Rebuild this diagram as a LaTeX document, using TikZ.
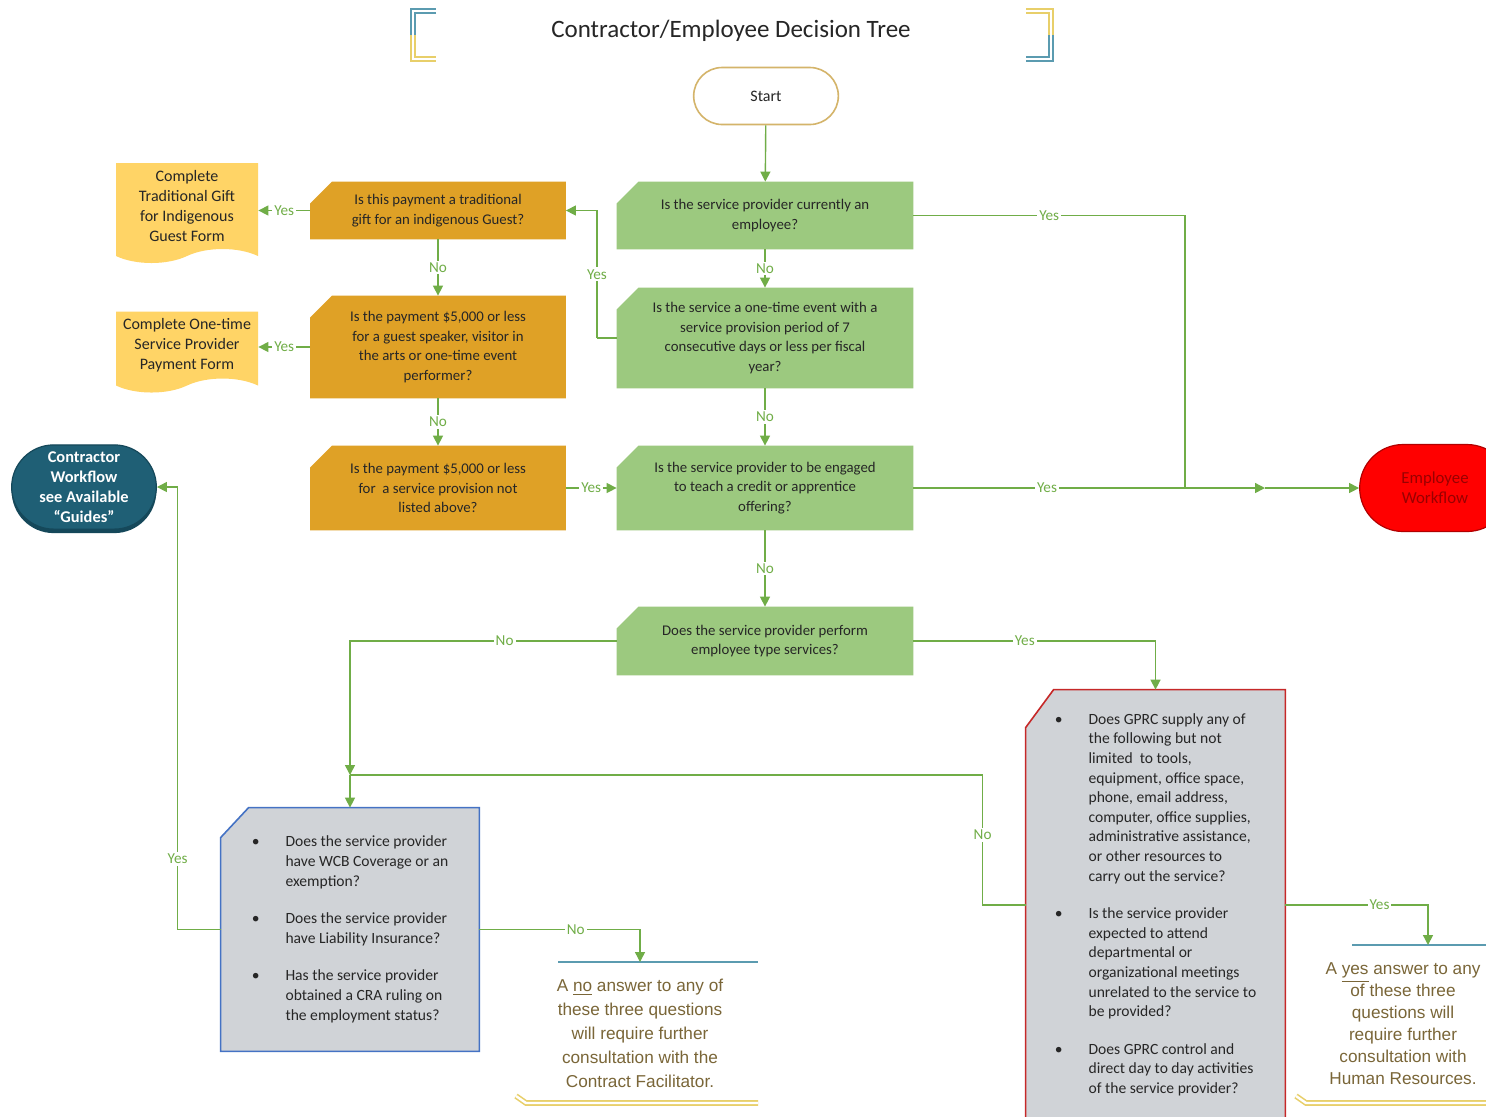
\documentclass[tikz,border=0pt]{standalone}
\usepackage{fontspec}
\setmainfont{Carlito}
\newfontfamily\notefont{Liberation Sans}
\usetikzlibrary{shapes.misc,shapes.symbols,arrows.meta,positioning,calc,backgrounds}

\definecolor{flowgreen}{HTML}{70AD47}
\definecolor{boxgreen}{HTML}{9CC97F}
\definecolor{boxorange}{HTML}{DFA126}
\definecolor{docyellow}{HTML}{FFD466}
\definecolor{cwteal}{HTML}{1F5F75}
\definecolor{cwdark}{HTML}{15485A}
\definecolor{askgray}{HTML}{D0D3D7}
\definecolor{askblue}{HTML}{4472C4}
\definecolor{askred}{HTML}{C62828}
\definecolor{startgold}{HTML}{D4B46A}
\definecolor{brblue}{HTML}{5B9BB0}
\definecolor{bryellow}{HTML}{E8CF6A}
\definecolor{notebrown}{HTML}{7A6638}

\tikzset{
  every node/.style={text=black!85},
  question/.style={rectangle, minimum width=148pt, align=center, inner sep=2pt,
    font={\fontsize{7.4}{9.8}\selectfont}},
  orangeq/.style={question, minimum width=127.5pt},
  formdoc/.style={tape, tape bend top=none, tape bend bottom=in and out,
    tape bend height=7pt, fill=docyellow, minimum width=71pt, align=center,
    font={\fontsize{8}{10}\selectfont}},
  askbox/.style={rectangle, minimum width=129pt, inner sep=0pt,
    font={\fontsize{7.8}{9.8}\selectfont}},
  arr/.style={flowgreen, line width=0.7pt, -{Triangle[length=5pt,width=5pt]}},
  link/.style={flowgreen, line width=0.7pt},
  lbl/.style={fill=white, text=flowgreen, inner sep=1pt,
    font={\fontsize{7.6}{9}\selectfont}},
  notetext/.style={align=center, text=notebrown,
    font={\notefont\fontsize{8.6}{12}\selectfont}},
  bracket/.style={double=white, double distance=1.2pt, line width=0.8pt},
}

\begin{document}
\begin{tikzpicture}[x=0.5pt,y=-0.5pt]
\useasboundingbox (0,0) rectangle (1486,1116);
\clip (0,0) rectangle (1486,1116);

% title and brackets
\node (title) at (731,31) {\fontsize{12.5}{14}\selectfont Contractor/Employee Decision Tree};
\draw[brblue, bracket] (436,11) -- (413,11) -- (413,35);
\draw[bryellow, bracket] (413,35) -- (413,59) -- (436,59);
\draw[bryellow, bracket] (1026,11) -- (1051,11) -- (1051,35);
\draw[brblue, bracket] (1051,35) -- (1051,59) -- (1026,59);

% main column
\node[rounded rectangle, draw=startgold, line width=0.8pt, fill=white,
  minimum width=79pt, minimum height=28.5pt, font={\fontsize{8}{10}\selectfont}] (start) at (766,96) {Start};
\node[question, minimum height=33.5pt] (q1) at (765,215.5) {Is the service provider currently an\\employee?};
\node[question, minimum height=50pt] (q2) at (765,338) {Is the service a one-time event with a\\service provision period of 7\\consecutive days or less per fiscal\\year?};
\node[question, minimum height=42pt] (q3) at (765,488) {Is the service provider to be engaged\\to teach a credit or apprentice\\offering?};
\node[question, minimum height=34pt] (q4) at (765,641) {Does the service provider perform\\employee type services?};

% payment column
\node[orangeq, minimum height=28.5pt] (y1) at (438,210.5) {Is this payment a traditional\\gift for an indigenous Guest?};
\node[orangeq, minimum height=51pt] (y2) at (438,347) {Is the payment \$5,000 or less\\for a guest speaker, visitor in\\the arts or one-time event\\performer?};
\node[orangeq, minimum height=42pt] (y3) at (438,488) {Is the payment \$5,000 or less\\for\ \ a service provision not\\listed above?};

% forms
\node[formdoc, minimum height=50pt] (d1) at (187,206) {Complete\\Traditional Gift\\for Indigenous\\Guest Form};
\node[formdoc, minimum height=40pt] (d2) at (187,345) {Complete One-time\\Service Provider\\Payment Form};

% workflows
\node[rounded rectangle, fill=cwteal, draw=cwdark, line width=0.6pt,
  preaction={fill=cwdark, transform canvas={yshift=-2pt}},
  minimum width=79pt, minimum height=42pt, align=center,
  text=white, font={\fontsize{8.2}{10}\selectfont\bfseries}] (cw) at (84,487) {Contractor\\Workflow\\see Available\\``Guides''};
\node[rounded rectangle, fill=red, draw=red!70!black, line width=0.6pt,
  minimum width=82pt, minimum height=43.5pt, align=center,
  text=red!60!black, font={\fontsize{8.4}{10}\selectfont}] (emp) at (1435,488) {Employee\\Workflow};

% question lists
\node[askbox, minimum height=121.5pt] (lb) at (350,929.5) {%
  \begin{tabular}{@{}l@{\hspace{13pt}}l@{}}
  \textbullet & Does the service provider\\
  & have WCB Coverage or an\\
  & exemption?\\[9pt]
  \textbullet & Does the service provider\\
  & have Liability Insurance?\\[9pt]
  \textbullet & Has the service provider\\
  & obtained a CRA ruling on\\
  & the employment status?
  \end{tabular}};
\node[askbox, minimum width=129.5pt, minimum height=215pt] (rb) at (1155.5,905) {%
  \begin{tabular}{@{}l@{\hspace{13pt}}l@{}}
  \textbullet & Does GPRC supply any of\\
  & the following but not\\
  & limited\ \ to tools,\\
  & equipment, office space,\\
  & phone, email address,\\
  & computer, office supplies,\\
  & administrative assistance,\\
  & or other resources to\\
  & carry out the service?\\[9pt]
  \textbullet & Is the service provider\\
  & expected to attend\\
  & departmental or\\
  & organizational meetings\\
  & unrelated to the service to\\
  & be provided?\\[9pt]
  \textbullet & Does GPRC control and\\
  & direct day to day activities\\
  & of the service provider?
  \end{tabular}};

% cut-corner boxes behind the texts
\begin{scope}[on background layer]
\fill[white] (0,0) rectangle (1486,1116);
\foreach \n/\c in {q1/boxgreen, q2/boxgreen, q3/boxgreen, q4/boxgreen,
                   y1/boxorange, y2/boxorange, y3/boxorange}
  \fill[\c] ($(\n.north west)+(22,0)$) -- (\n.north east) -- (\n.south east)
    -- (\n.south west) -- ($(\n.north west)+(0,22)$) -- cycle;
\filldraw[fill=askgray, draw=askblue, line width=0.8pt] ($(lb.north west)+(28,0)$) -- (lb.north east)
  -- (lb.south east) -- (lb.south west) -- ($(lb.north west)+(0,30)$) -- cycle;
\filldraw[fill=askgray, draw=askred, line width=0.8pt] ($(rb.north west)+(28,0)$) -- (rb.north east)
  -- (rb.south east) -- (rb.south west) -- ($(rb.north west)+(0,38)$) -- cycle;
\end{scope}

% notes
\node[notetext] (n1) at (640,1033) {A \underline{no} answer to any of\\these three questions\\will require further\\consultation with the\\Contract Facilitator.};
\node[notetext, font={\notefont\fontsize{8.6}{11}\selectfont}] (n2) at (1403,1024) {A \underline{yes} answer to any\\of these three\\questions will\\require further\\consultation with\\Human Resources.};
\coordinate (n1top) at (640,962);
\coordinate (n2top) at (1428,945);
\draw[brblue, line width=0.8pt] (558,962) -- (758,962);
\draw[brblue, line width=0.8pt] (1352,945) -- (1486,945);
\draw[bryellow, bracket] (516,1096) -- (526,1103) -- (758,1103);
\draw[bryellow, bracket] (1296,1096) -- (1306,1103) -- (1486,1103);

% connectors
\coordinate (jQ) at (1185,488);
\coordinate (jE) at (1265,488);
\coordinate (jL) at (350,775);
\coordinate (jY) at (597,338);

\draw[arr] (start) -- (q1);
\draw[arr] (q1) -- node[lbl]{No} (q2);
\draw[arr] (q2) -- node[lbl]{No} (q3);
\draw[arr] (q3) -- node[lbl]{No} (q4);
\draw[link] (q2.west) -- (jY);
\draw[arr] (jY) |- node[lbl, pos=0.25]{Yes} (y1.east);
\draw[arr] (y1.west) -- node[lbl]{Yes} (d1.east |- y1.west);
\draw[arr] (y1) -- node[lbl]{No} (y2);
\draw[arr] (y2.west) -- node[lbl]{Yes} (d2.east |- y2.west);
\draw[arr] (y2) -- node[lbl]{No} (y3);
\draw[arr] (y3) -- node[lbl]{Yes} (q3);

\draw[link] (q1.east) -- node[lbl]{Yes} (q1.east -| jQ) -- (jQ);
\draw[arr] (q3.east) -- node[lbl, pos=0.38]{Yes} (jE);
\draw[arr] (jE) -- (emp);

\draw[arr] (q4.west) -| node[lbl, pos=0.21]{No} (jL);
\draw[arr] (jL) -- (lb);
\draw[arr] (q4.east) -| node[lbl, pos=0.23]{Yes} (rb.north);
\draw[link] (rb.west) -- ++(-43,0) |- node[lbl, pos=0.27]{No} (jL);
\draw[arr] (lb.west) -- ++(-43,0) |- node[lbl, pos=0.08]{Yes} (cw.east);
\draw[arr] (lb.east) -| node[lbl, pos=0.3]{No} (n1top);
\draw[arr] (rb.east) -| node[lbl, pos=0.33]{Yes} (n2top);
\end{tikzpicture}
\end{document}
